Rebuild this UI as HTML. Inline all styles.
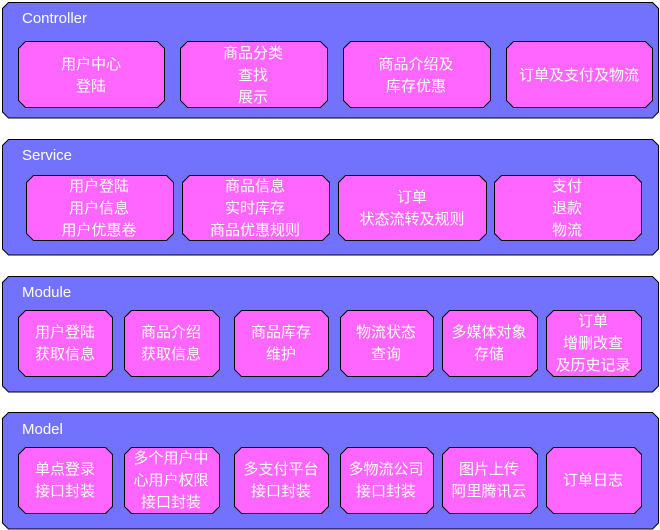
<!DOCTYPE html>
<html><head><meta charset="utf-8"><style>
html,body{margin:0;padding:0;background:#fff;width:660px;height:530px;overflow:hidden}
svg{display:block}
text{font-family:"Liberation Sans","Noto Sans CJK SC",sans-serif;font-size:15px;fill:#fff;text-anchor:middle}
.t{text-anchor:start;font-size:15px}
</style></head><body>
<svg id="s" width="660" height="530" xmlns="http://www.w3.org/2000/svg">
<g id="shapes"></g>
<text class="t" x="22" y="23">Controller</text>
<text class="t" x="22" y="160">Service</text>
<text class="t" x="22" y="297">Module</text>
<text class="t" x="22" y="434">Model</text>

<text x="91" y="69">用户中心</text><text x="91" y="91">登陆</text>
<text x="253" y="58">商品分类</text><text x="253" y="80">查找</text><text x="253" y="102">展示</text>
<text x="416" y="69">商品介绍及</text><text x="416" y="91">库存优惠</text>
<text x="579" y="80">订单及支付及物流</text>

<text x="99" y="191">用户登陆</text><text x="99" y="213">用户信息</text><text x="99" y="235">用户优惠卷</text>
<text x="255" y="191">商品信息</text><text x="255" y="213">实时库存</text><text x="255" y="235">商品优惠规则</text>
<text x="412" y="202">订单</text><text x="412" y="224">状态流转及规则</text>
<text x="567" y="191">支付</text><text x="567" y="213">退款</text><text x="567" y="235">物流</text>

<text x="65" y="337">用户登陆</text><text x="65" y="359">获取信息</text>
<text x="171" y="337">商品介绍</text><text x="171" y="359">获取信息</text>
<text x="281" y="337">商品库存</text><text x="281" y="359">维护</text>
<text x="386" y="337">物流状态</text><text x="386" y="359">查询</text>
<text x="489" y="337">多媒体对象</text><text x="489" y="359">存储</text>
<text x="593" y="326">订单</text><text x="593" y="348">增删改查</text><text x="593" y="370">及历史记录</text>

<text x="65" y="474">单点登录</text><text x="65" y="496">接口封装</text>
<text x="171" y="463">多个用户中</text><text x="171" y="485">心用户权限</text><text x="171" y="507">接口封装</text>
<text x="281" y="474">多支付平台</text><text x="281" y="496">接口封装</text>
<text x="386" y="474">多物流公司</text><text x="386" y="496">接口封装</text>
<text x="489" y="474">图片上传</text><text x="489" y="496">阿里腾讯云</text>
<text x="593" y="485">订单日志</text>
</svg>
<script>
var g=document.getElementById('shapes'),NS='http://www.w3.org/2000/svg';
function oct(x1,y1,x2,y2,c,fill){var p=[[x1+c,y1],[x2-c,y1],[x2,y1+c],[x2,y2-c],[x2-c,y2],[x1+c,y2],[x1,y2-c],[x1,y1+c]];
var e=document.createElementNS(NS,'polygon');e.setAttribute('points',p.map(function(a){return a.join(',')}).join(' '));
e.setAttribute('fill',fill);e.setAttribute('stroke','#000');e.setAttribute('stroke-width','1');g.appendChild(e);}
var L=[[2.5,118],[2.5,255],[2.5,392],[2.5,529]];
var tops=[2.5,139.5,276.5,412.5];
for(var i=0;i<4;i++)oct(2.5,tops[i],658.5,L[i][1],6,'#7272ff');
var P='#ff66ff';
[[18,164],[180,327],[343,490],[506,652]].forEach(function(b){oct(b[0]+.5,41.5,b[1]+.5,107.5,7,P)});
[[26,173],[182,329],[338,486],[494,641]].forEach(function(b){oct(b[0]+.5,175.5,b[1]+.5,240.5,7,P)});
var six=[[18,112],[124,219],[234,328],[340,433],[442,537],[546,641]];
six.forEach(function(b){oct(b[0]+.5,310.5,b[1]+.5,376.5,7,P)});
six.forEach(function(b){oct(b[0]+.5,447.5,b[1]+.5,513.5,7,P)});
</script>
</body></html>
